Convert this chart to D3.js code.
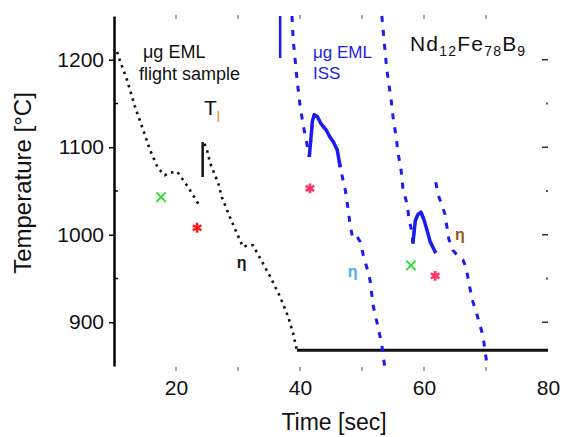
<!DOCTYPE html>
<html>
<head>
<meta charset="utf-8">
<script src="https://cdn.jsdelivr.net/npm/d3@7"></script>
<style>
  html, body { margin: 0; padding: 0; background: #fff; }
  svg { display: block; font-family: "Liberation Sans", Arial, sans-serif; }
</style>
</head>
<body>
<svg id="chart" width="564" height="437"></svg>
<script>
// Temperature-time profiles of Nd-Fe-B melts processed in electromagnetic levitation.
// Each curve is a list of [time (s), temperature (°C)] pairs.

// Flight sample: cooling, recalescence jump, second arrest, solidified tail
const flightCooling = [
  [10.5, 1209], [11.0, 1198], [12.1, 1177], [13.4, 1146], [14.7, 1120],
  [15.8, 1097], [17.1, 1076], [18.2, 1068], [19.0, 1071], [20.2, 1072],
  [21.9, 1055], [23.9, 1032]
];
const flightRecalescence = [[24.3, 1066], [24.3, 1106]];
const flightAfter = [
  [24.6, 1104], [25.0, 1097], [25.5, 1082], [26.8, 1059], [27.4, 1043],
  [28.7, 1020], [29.8, 1002], [30.8, 986], [31.6, 988], [32.4, 988],
  [33.5, 974], [35.2, 952], [36.8, 929], [38.1, 906], [38.9, 887], [39.5, 868]
];
const flightFloor = [[39.5, 868], [80, 868]];

// ISS runs
const issHeating = [[36.8, 1250], [36.8, 1202]];
const issRun1 = [
  [38.7, 1250], [38.9, 1223], [39.5, 1179], [40.0, 1148], [40.5, 1126],
  [41.0, 1108], [41.5, 1089], [42.0, 1130], [42.3, 1137], [42.8, 1135],
  [43.3, 1128], [43.7, 1124], [44.2, 1120], [44.8, 1112], [45.4, 1106],
  [46.0, 1097], [46.5, 1077], [47.3, 1051], [47.7, 1032],
  [48.1, 1011], [48.5, 996], [49.2, 998], [49.7, 992], [50.2, 977],
  [50.8, 962], [51.3, 948], [51.8, 919], [52.6, 894], [53.2, 874], [53.7, 847]
];
const issRun1Plateau = [41.5, 47.0];
const issRun2 = [
  [53.2, 1250], [53.7, 1211], [54.0, 1189], [54.7, 1154], [55.0, 1135],
  [55.5, 1112], [55.8, 1094], [56.3, 1074], [56.6, 1053], [57.3, 1034],
  [57.6, 1017], [58.1, 1002], [58.2, 990], [58.6, 1016], [59.0, 1023],
  [59.5, 1026], [60.0, 1017], [60.5, 1005], [61.0, 992], [61.9, 979]
];
const issRun2Plateau = [58.2, 61.9];
const issRun3 = [
  [61.9, 1060], [62.3, 1045], [62.9, 1034], [63.4, 1023], [64.0, 995],
  [64.7, 982], [65.3, 977], [65.8, 973], [66.3, 971], [66.8, 962],
  [67.4, 939], [67.9, 923], [68.5, 910], [69.0, 897], [69.5, 885],
  [69.8, 870], [70.2, 849]
];

// Event markers
const nucleationPoints = [[17.6, 1043], [57.9, 965]];          // x
const undercoolingFlight = [[23.4, 1008]];                      // *
const undercoolingIss = [[41.6, 1053], [61.8, 953]];            // *
const etaMarks = [[30.6, 967], [48.5, 957], [65.8, 1000]];      // η

// Axis ticks and labels
const xTickLabels = [20, 40, 60, 80];
const xMinorTicks = [20, 30, 40, 50, 60, 70];
const yTickLabels = [900, 1000, 1100, 1200];
const yMinorTicks = [950, 1050, 1150];

const svg = d3.select("#chart");

const x = d3.scaleLinear().domain([10, 80]).range([114, 548]);
const y = d3.scaleLinear().domain([850, 1250]).range([366, 16]);

const line = d3.line().x(d => x(d[0])).y(d => y(d[1]));

const blue = "#1c1cf0";

// --- axes ---
const yAxis = svg.append("g")
  .attr("transform", `translate(${x(10)},0)`)
  .call(d3.axisLeft(y).tickValues(yTickLabels).tickFormat(d3.format("d"))
    .tickSize(5).tickSizeOuter(0).tickPadding(5));
yAxis.select(".domain").attr("stroke", "#000").attr("stroke-width", 2.5);
yAxis.selectAll(".tick line").attr("stroke", "#000").attr("stroke-width", 1.5);
yAxis.selectAll("text")
  .attr("font-size", 21).attr("fill", "#111")
  .attr("font-family", "Liberation Sans, Arial, sans-serif");

// minor inward ticks on the left axis
svg.append("g").selectAll("line").data(yMinorTicks).join("line")
  .attr("x1", x(10)).attr("x2", x(10) + 4)
  .attr("y1", d => y(d)).attr("y2", d => y(d))
  .attr("stroke", "#000").attr("stroke-width", 1.5);

const xAxis = svg.append("g")
  .attr("transform", `translate(0,${y(850)})`)
  .call(d3.axisBottom(x).tickValues(xTickLabels).tickFormat(d3.format("d"))
    .tickSize(0).tickPadding(14));
xAxis.select(".domain").remove();
xAxis.selectAll("text")
  .attr("font-size", 21).attr("fill", "#111")
  .attr("font-family", "Liberation Sans, Arial, sans-serif");

// faint frame ticks (top, bottom, right)
svg.append("g").selectAll("line").data(xMinorTicks).join("line")
  .attr("x1", d => x(d)).attr("x2", d => x(d))
  .attr("y1", 15).attr("y2", 19)
  .attr("stroke", "#888").attr("stroke-width", 1.5);
svg.append("g").selectAll("line").data(xMinorTicks).join("line")
  .attr("x1", d => x(d)).attr("x2", d => x(d))
  .attr("y1", y(850) + 1).attr("y2", y(850) + 5)
  .attr("stroke", "#888").attr("stroke-width", 1.5);
svg.append("g").selectAll("line").data(yTickLabels).join("line")
  .attr("x1", x(80) - 6).attr("x2", x(80))
  .attr("y1", d => y(d)).attr("y2", d => y(d))
  .attr("stroke", "#333").attr("stroke-width", 1.5);
svg.append("g").selectAll("line").data(yMinorTicks).join("line")
  .attr("x1", x(80) - 2).attr("x2", x(80))
  .attr("y1", d => y(d)).attr("y2", d => y(d))
  .attr("stroke", "#555").attr("stroke-width", 2);

// axis titles
svg.append("text")
  .attr("x", x(45) + 3).attr("y", 430)
  .attr("text-anchor", "middle")
  .attr("font-size", 23).attr("fill", "#111")
  .text("Time [sec]");
svg.append("text")
  .attr("transform", "translate(31,183) rotate(-90)")
  .attr("text-anchor", "middle")
  .attr("font-size", 24).attr("fill", "#111")
  .text("Temperature [°C]");

// --- flight sample curve ---
[flightCooling, flightAfter].forEach(seg => {
  svg.append("path").datum(seg)
    .attr("d", line).attr("fill", "none")
    .attr("stroke", "#111").attr("stroke-width", 2.6)
    .attr("stroke-dasharray", "2.5,4.5");
});
svg.append("path").datum(flightRecalescence)
  .attr("d", line).attr("fill", "none")
  .attr("stroke", "#111").attr("stroke-width", 2.5);
svg.append("path").datum(flightFloor)
  .attr("d", line).attr("fill", "none")
  .attr("stroke", "#111").attr("stroke-width", 3);

// --- ISS curves ---
svg.append("path").datum(issHeating)
  .attr("d", line).attr("fill", "none")
  .attr("stroke", blue).attr("stroke-width", 2.5);
[issRun1, issRun2, issRun3].forEach(seg => {
  svg.append("path").datum(seg)
    .attr("d", line).attr("fill", "none")
    .attr("stroke", blue).attr("stroke-width", 3)
    .attr("stroke-dasharray", "6,8");
});
// recalescence plateaus drawn as continuous traces
[[issRun1, issRun1Plateau], [issRun2, issRun2Plateau]].forEach(([seg, span]) => {
  svg.append("path").datum(seg.filter(d => d[0] >= span[0] && d[0] <= span[1]))
    .attr("d", line).attr("fill", "none")
    .attr("stroke", blue).attr("stroke-width", 3.5)
    .attr("stroke-linejoin", "round");
});

// --- markers ---
svg.append("g").selectAll("path").data(nucleationPoints).join("path")
  .attr("transform", d => `translate(${x(d[0])},${y(d[1])})`)
  .attr("d", d3.symbol(d3.symbolTimes, 60))
  .attr("fill", "none").attr("stroke", "#2fe02f").attr("stroke-width", 2);
svg.append("g").selectAll("path").data(undercoolingFlight).join("path")
  .attr("transform", d => `translate(${x(d[0])},${y(d[1])})`)
  .attr("d", d3.symbol(d3.symbolAsterisk, 70))
  .attr("fill", "none").attr("stroke", "#ff1a1a").attr("stroke-width", 2.5);
svg.append("g").selectAll("path").data(undercoolingIss).join("path")
  .attr("transform", d => `translate(${x(d[0])},${y(d[1])})`)
  .attr("d", d3.symbol(d3.symbolAsterisk, 70))
  .attr("fill", "none").attr("stroke", "#ff3366").attr("stroke-width", 2.5);
const etaColors = ["#1a1a1a", "#4aaef0", "#9c5a1c"];
svg.append("g").selectAll("text").data(etaMarks).join("text")
  .attr("x", d => x(d[0])).attr("y", d => y(d[1]))
  .attr("dy", "0.3em")
  .attr("text-anchor", "middle")
  .attr("font-size", 16).attr("font-weight", "bold")
  .attr("fill", (d, i) => etaColors[i])
  .text("η");

// --- annotations ---
svg.append("text").attr("x", 143).attr("y", 58)
  .attr("font-size", 18).attr("fill", "#111").text("μg EML");
svg.append("text").attr("x", 139).attr("y", 80)
  .attr("font-size", 18).attr("fill", "#111").text("flight sample");

svg.append("text").attr("x", 313).attr("y", 58)
  .attr("font-size", 17).attr("fill", blue).text("μg EML");
svg.append("text").attr("x", 313).attr("y", 79)
  .attr("font-size", 17).attr("fill", blue).text("ISS");

const tl = svg.append("text").attr("x", 204).attr("y", 115)
  .attr("font-size", 21).attr("fill", "#111");
tl.append("tspan").text("T");
tl.append("tspan").attr("dy", 7).attr("font-size", 14).attr("fill", "#e8841c").text("l");

const title = svg.append("text").attr("x", 410).attr("y", 51)
  .attr("font-size", 21).attr("letter-spacing", 1.2).attr("fill", "#111");
title.append("tspan").text("Nd");
title.append("tspan").attr("dy", 5).attr("font-size", 14).text("12");
title.append("tspan").attr("dy", -5).text("Fe");
title.append("tspan").attr("dy", 5).attr("font-size", 14).text("78");
title.append("tspan").attr("dy", -5).text("B");
title.append("tspan").attr("dy", 5).attr("font-size", 14).text("9");
</script>
</body>
</html>
